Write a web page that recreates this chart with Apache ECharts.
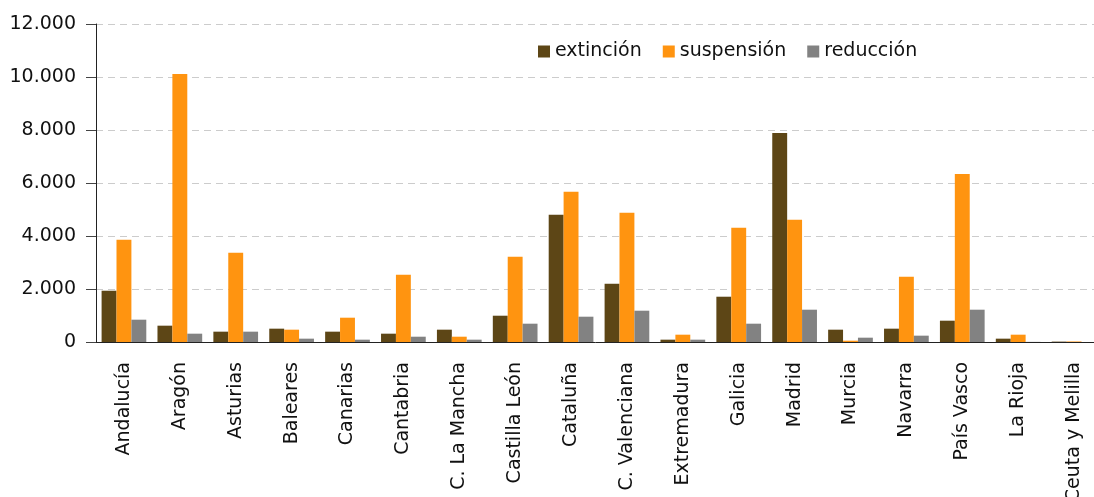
<!DOCTYPE html>
<html>
<head>
<meta charset="utf-8">
<script src="https://cdn.jsdelivr.net/npm/echarts@6/dist/echarts.min.js"></script>
<style>
  html, body { margin: 0; padding: 0; background: #fff; }
  #main { width: 1094px; height: 497px; }
</style>
</head>
<body>
<div id="main"></div>
<script>
const categories = ['Andalucía', 'Aragón', 'Asturias', 'Baleares', 'Canarias', 'Cantabria',
    'C. La Mancha', 'Castilla León', 'Cataluña', 'C. Valenciana', 'Extremadura', 'Galicia',
    'Madrid', 'Murcia', 'Navarra', 'País Vasco', 'La Rioja', 'Ceuta y Melilla'];
const extincion = [1935, 616, 390, 503, 390, 314, 465, 992, 4799, 2198, 88, 1709, 7889, 465, 503, 804, 126, 15];
const suspension = [3857, 10113, 3367, 465, 917, 2538, 200, 3216, 5666, 4874, 276, 4309, 4611, 50, 2462, 6344, 276, 20];
const reduccion = [842, 314, 390, 126, 88, 200, 88, 691, 955, 1181, 88, 691, 1219, 163, 239, 1219, 5, 0];

const seriesNames = ['extinción', 'suspensión', 'reducción'];
const colors = ['#5d4616', '#ff9410', '#828282'];
const font = 'DejaVu Sans';

function fmt(v) {
    return String(v).replace(/\B(?=(\d{3})+(?!\d))/g, '.');
}

let myChart = echarts.init(document.getElementById('main'));

myChart.setOption({
    animation: false,
    color: colors,
    textStyle: { fontFamily: font },
    grid: {
        left: 96,
        right: -8,
        top: 24,
        bottom: 155,
        outerBoundsMode: 'none'
    },
    legend: {
        data: seriesNames,
        left: 533,
        top: 37,
        itemWidth: 12,
        itemHeight: 12,
        itemGap: 21,
        icon: 'rect',
        textStyle: { fontFamily: font, fontSize: 19, color: '#111' }
    },
    xAxis: {
        type: 'category',
        data: categories,
        axisLine: { lineStyle: { color: '#222', width: 1 } },
        axisTick: { length: 10, lineStyle: { color: '#444' } },
        axisLabel: {
            rotate: 90,
            interval: 0,
            margin: 20,
            fontFamily: font,
            fontSize: 19,
            color: '#111'
        }
    },
    yAxis: {
        type: 'value',
        min: 0,
        max: 12000,
        interval: 2000,
        axisLine: { show: true, lineStyle: { color: '#222', width: 1 } },
        axisTick: { show: true, length: 10, lineStyle: { color: '#444' } },
        axisLabel: {
            margin: 20,
            fontFamily: font,
            fontSize: 19,
            color: '#111',
            formatter: fmt
        },
        splitLine: {
            lineStyle: { color: '#cccccc', type: [7, 5] }
        }
    },
    series: [
        { name: seriesNames[0], type: 'bar', data: extincion, barGap: 0, barCategoryGap: '20%' },
        { name: seriesNames[1], type: 'bar', data: suspension, barGap: 0, barCategoryGap: '20%' },
        { name: seriesNames[2], type: 'bar', data: reduccion, barGap: 0, barCategoryGap: '20%' }
    ]
});

window.addEventListener('resize', function () {
    myChart.resize();
});
</script>
</body>
</html>
